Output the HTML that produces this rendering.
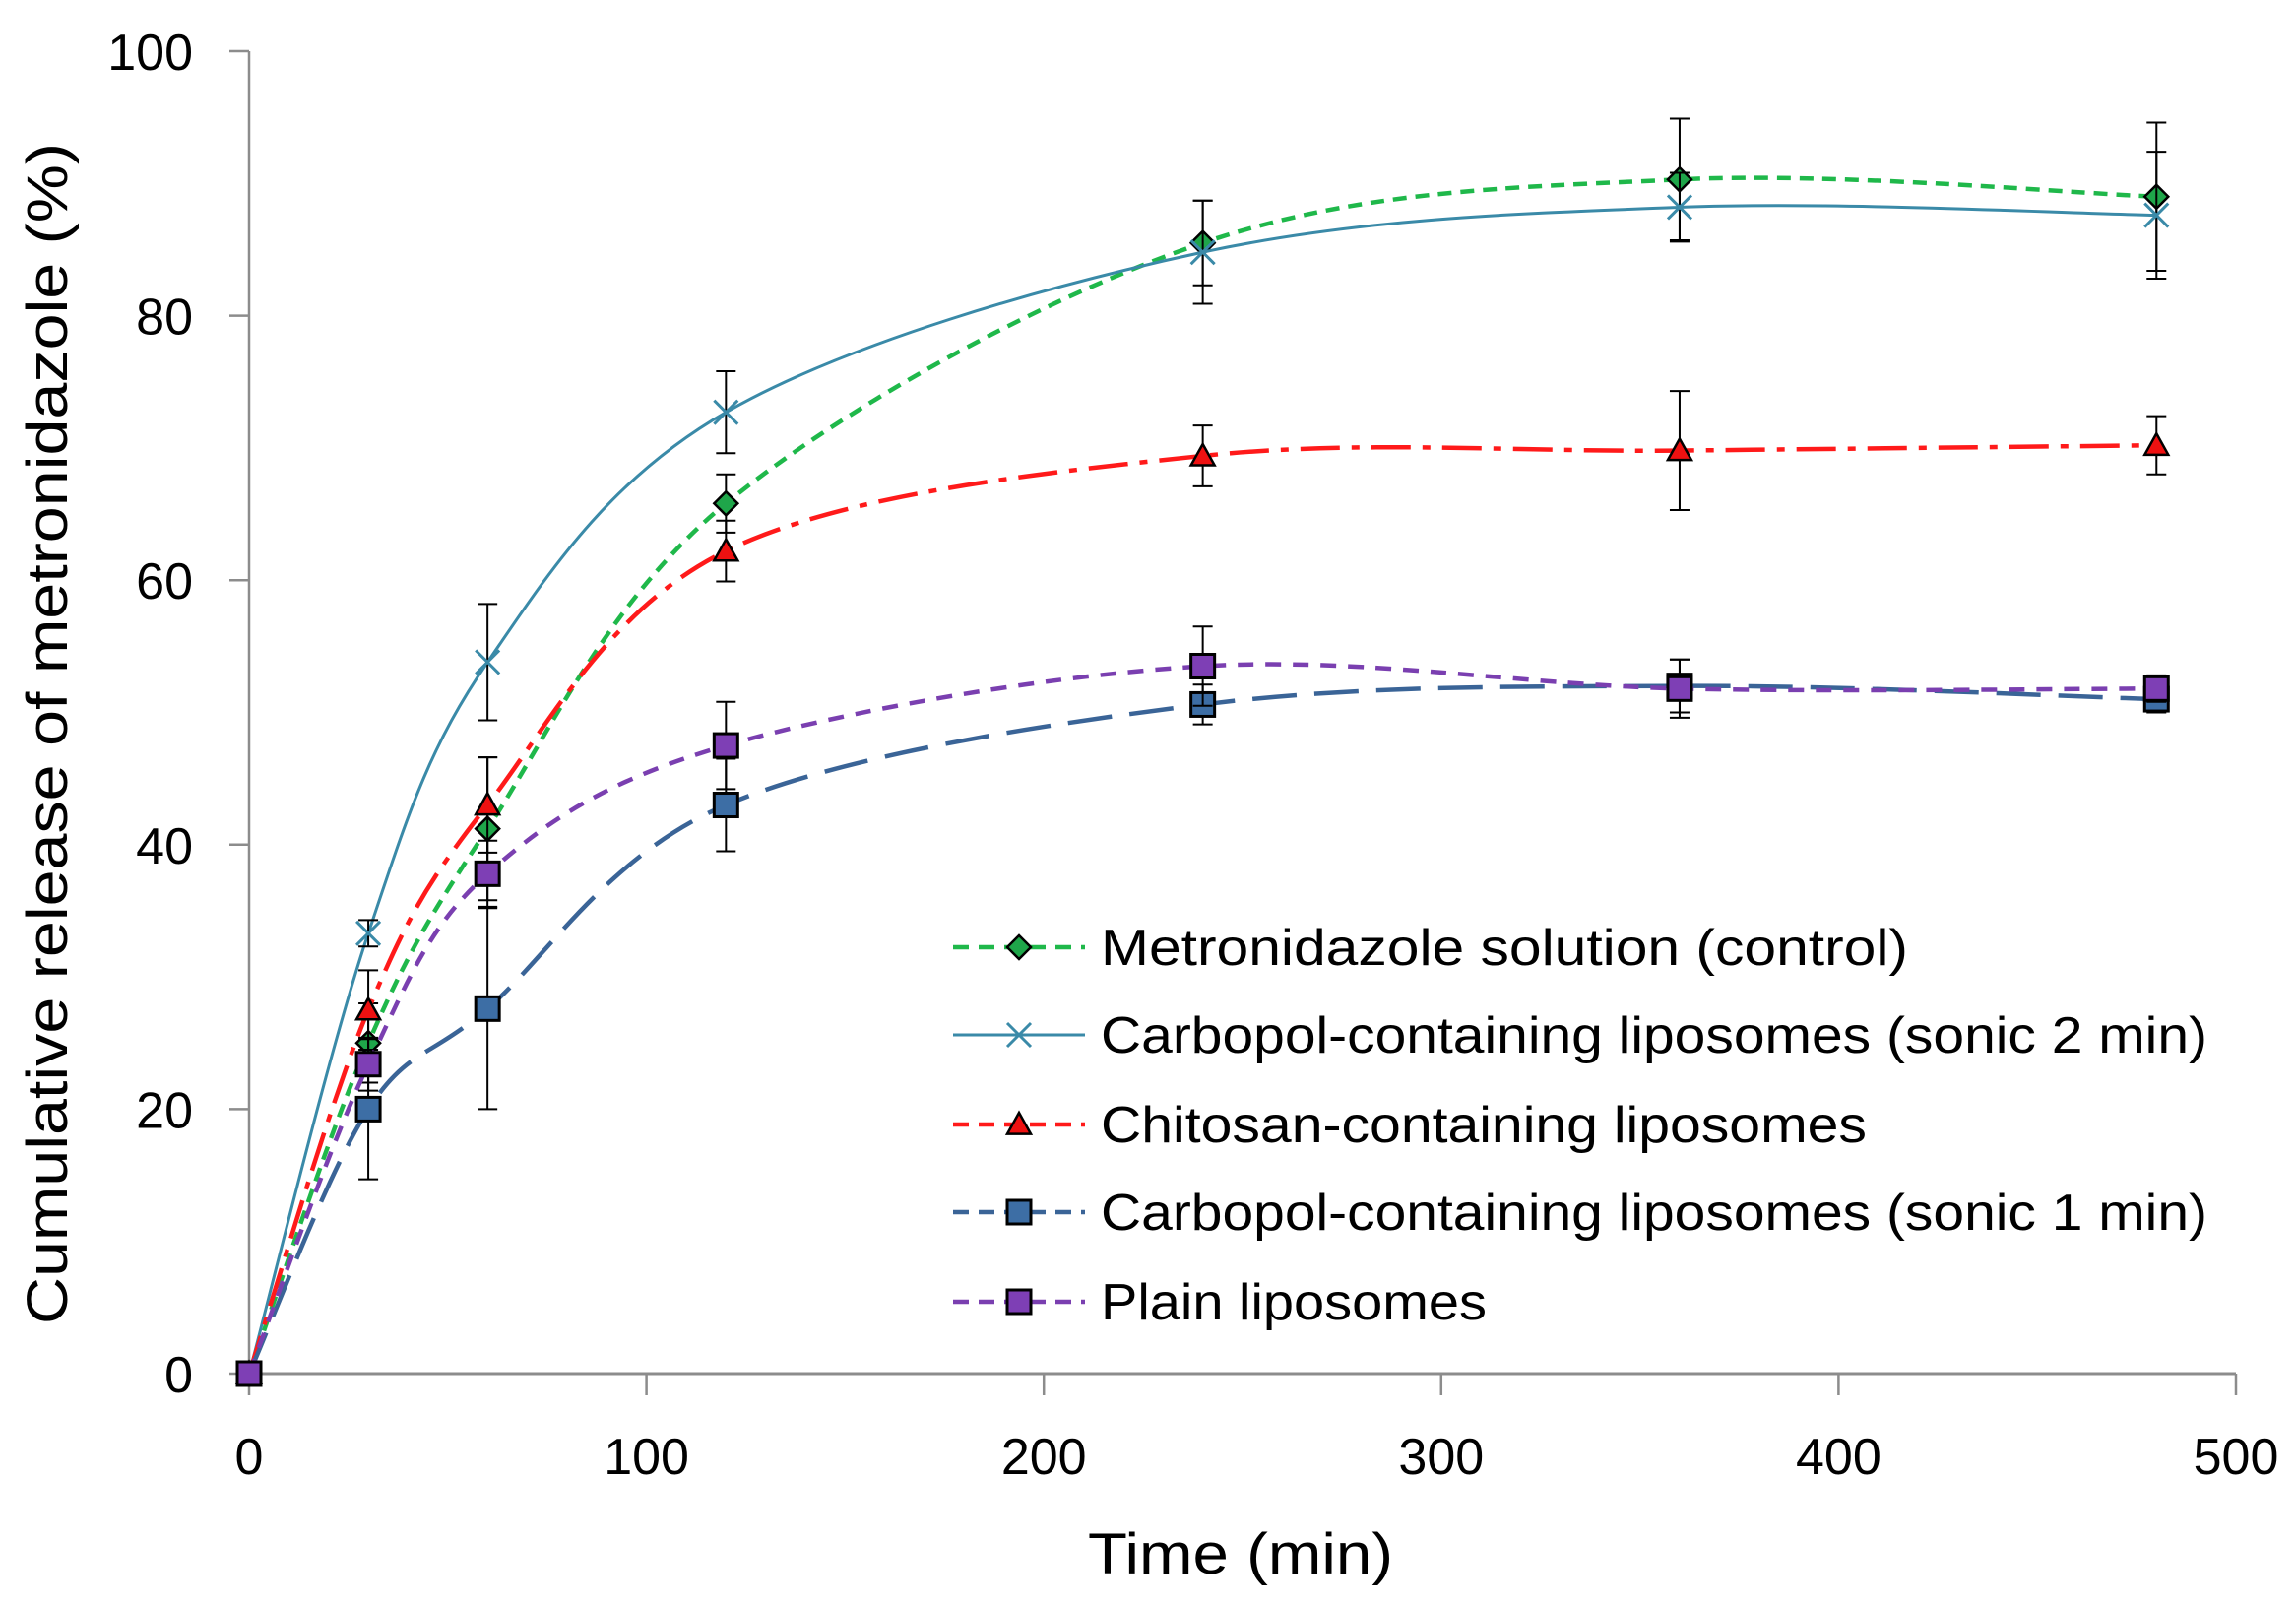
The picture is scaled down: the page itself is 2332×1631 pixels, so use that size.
<!DOCTYPE html>
<html><head><meta charset="utf-8"><style>
html,body{margin:0;padding:0;background:#fff;}
svg{display:block;font-family:"Liberation Sans",sans-serif;}
</style></head><body>
<svg id="chart" width="2332" height="1631" viewBox="0 0 2332 1631" xmlns="http://www.w3.org/2000/svg">
<g id="axes"></g>
<g id="series"></g>
<g id="legend"></g>
<text x="1260" y="1598" font-size="58" text-anchor="middle" textLength="310" lengthAdjust="spacingAndGlyphs">Time (min)</text>
<text transform="translate(68,745) rotate(-90)" font-size="58" text-anchor="middle" textLength="1200" lengthAdjust="spacingAndGlyphs">Cumulative release of metronidazole (%)</text>
</svg>
<script>
const times = [0, 30, 60, 120, 240, 360, 480];
const seriesNames = ["Metronidazole solution (control)","Carbopol-containing liposomes (sonic 2 min)","Chitosan-containing liposomes","Carbopol-containing liposomes (sonic 1 min)","Plain liposomes"];
const controlVals = [0, 25, 41.2, 65.8, 85.5, 90.3, 89.0];
const controlErr  = [0, 3, 5.4, 2.2, 3.2, 4.6, 5.6];
const sonic2Vals  = [0, 33.3, 53.8, 72.7, 84.8, 88.2, 87.6];
const sonic2Err   = [0, 1, 4.4, 3.1, 3.9, 2.6, 4.8];
const chitoVals   = [0, 27.5, 43.0, 62.2, 69.4, 69.8, 70.2];
const chitoErr    = [0, 3, 3.6, 2.3, 2.3, 4.5, 2.2];
const sonic1Vals  = [0, 20.0, 27.6, 43.0, 50.6, 52.0, 51.0];
const sonic1Err   = [0, 5.3, 7.6, 3.5, 1.5, 2.0, 1.0];
const plainVals   = [0, 23.4, 37.8, 47.5, 53.5, 51.8, 51.8];
const plainErr    = [0, 2, 2.5, 3.3, 3.0, 2.2, 1.0];
const xTicks = [0,100,200,300,400,500];
const yTicks = [0,20,40,60,80,100];

const X0=253, X1=2271, Y0=1395, Y1=52;
const sx = v => X0 + (v/500)*(X1-X0);
const sy = v => Y0 - (v/100)*(Y0-Y1);
const NS="http://www.w3.org/2000/svg";
function mk(tag, parent, attrs){const e=document.createElementNS(NS,tag);for(const k in attrs)e.setAttribute(k,attrs[k]);parent.appendChild(e);return e;}

const axes=document.getElementById('axes');
let yl=mk('line',axes,{x1:X0,y1:Y1,x2:X0,y2:Y0,stroke:'#8c8c8c','stroke-width':2.5});


let xl=mk('line',axes,{x1:X0,y1:Y0,x2:X1,y2:Y0,stroke:'#8c8c8c','stroke-width':3});


yTicks.forEach(t=>{
  const tk=mk('line',axes,{x1:X0-20,y1:sy(t),x2:X0,y2:sy(t),stroke:'#8c8c8c','stroke-width':2.5});
  
  
  const tx=mk('text',axes,{x:196,y:sy(t)+19,'font-size':52,'text-anchor':'end'});
  tx.textContent=t;
  
  
});
xTicks.forEach(t=>{
  const tk=mk('line',axes,{x1:sx(t),y1:Y0,x2:sx(t),y2:Y0+22,stroke:'#8c8c8c','stroke-width':2.5});
  
  
  const tx=mk('text',axes,{x:sx(t),y:1497,'font-size':52,'text-anchor':'middle'});
  tx.textContent=t;
  
  
});

function smoothPath(pts){
  let d=`M${pts[0][0]},${pts[0][1]}`;
  for(let i=0;i<pts.length-1;i++){
    const p0=pts[Math.max(0,i-1)],p1=pts[i],p2=pts[i+1],p3=pts[Math.min(pts.length-1,i+2)];
    const t=1/6;
    const c1=[p1[0]+(p2[0]-p0[0])*t,p1[1]+(p2[1]-p0[1])*t];
    const c2=[p2[0]-(p3[0]-p1[0])*t,p2[1]-(p3[1]-p1[1])*t];
    d+=` C${c1[0]},${c1[1]} ${c2[0]},${c2[1]} ${p2[0]},${p2[1]}`;
  }
  return d;
}
function marker(g,type,cx,cy,fill,stroke){
  let m;
  const s=12;
  if(type==='diamond') m=mk('polygon',g,{points:`${cx},${cy-s} ${cx+s},${cy} ${cx},${cy+s} ${cx-s},${cy}`,fill,stroke:'#000','stroke-width':2.5});
  else if(type==='tri') m=mk('polygon',g,{points:`${cx},${cy-s} ${cx+s},${cy+s*0.8} ${cx-s},${cy+s*0.8}`,fill,stroke:'#000','stroke-width':2.5});
  else if(type==='square') m=mk('rect',g,{x:cx-s,y:cy-s,width:2*s,height:2*s,fill,stroke:'#000','stroke-width':3});
  else { m=mk('path',g,{d:`M${cx-s},${cy-s}L${cx+s},${cy+s}M${cx+s},${cy-s}L${cx-s},${cy+s}`,stroke,'stroke-width':3,fill:'none'}); }
  return m;
}
const defs=[
 {vals:controlVals,err:controlErr,color:'#1fb84a',dash:'14,9',marker:'diamond',fill:'#1fa64a',name:'control'},
 {vals:sonic2Vals,err:sonic2Err,color:'#3a8aa8',dash:'',marker:'x',fill:'#3a8aa8',name:'sonic-2min'},
 {vals:chitoVals,err:chitoErr,color:'#ff1a1a',dash:'40,12,8,12',marker:'tri',fill:'#ee1111',name:'chitosan'},
 {vals:sonic1Vals,err:sonic1Err,color:'#3a6497',dash:'45,18',marker:'square',fill:'#3d6ea5',name:'sonic-1min'},
 {vals:plainVals,err:plainErr,color:'#7a3fb0',dash:'16,12',marker:'square',fill:'#7e3fb5',name:'plain'}
];
const sg=document.getElementById('series');
defs.forEach(s=>{
  const g=mk('g',sg,{});
  
  
  const pts=times.map((t,i)=>[sx(t),sy(s.vals[i])]);
  const p=mk('path',g,{d:smoothPath(pts),fill:'none',stroke:s.color,'stroke-width':s.dash?4.5:3,'stroke-dasharray':s.dash});
  
  
  times.forEach((t,i)=>{
    if(s.err[i]>0){
      const x=sx(t),ya=sy(s.vals[i]+s.err[i]),yb=sy(s.vals[i]-s.err[i]);
      const e=mk('path',g,{d:`M${x},${ya}V${yb}M${x-10},${ya}H${x+10}M${x-10},${yb}H${x+10}`,stroke:'#000','stroke-width':2,fill:'none'});
      
      
    }
    const m=marker(g,s.marker,sx(t),sy(s.vals[i]),s.fill,s.color);
    
    
  });
});
const lg=document.getElementById('legend');
const rowY=[962,1051,1142,1231,1322];
const textW=[820,1124,778,1124,392];
defs.forEach((s,i)=>{
  const g=mk('g',lg,{});
  
  
  mk('line',g,{x1:968,y1:rowY[i],x2:1102,y2:rowY[i],stroke:s.color,'stroke-width':s.dash?4.5:3,'stroke-dasharray':s.dash?'16,10':''});
  marker(g,s.marker,1035,rowY[i],s.fill,s.color);
  const t=mk('text',g,{x:1118,y:rowY[i]+18,'font-size':52,textLength:textW[i],lengthAdjust:'spacingAndGlyphs'});
  t.textContent=seriesNames[i];
});
</script>
</body></html>
